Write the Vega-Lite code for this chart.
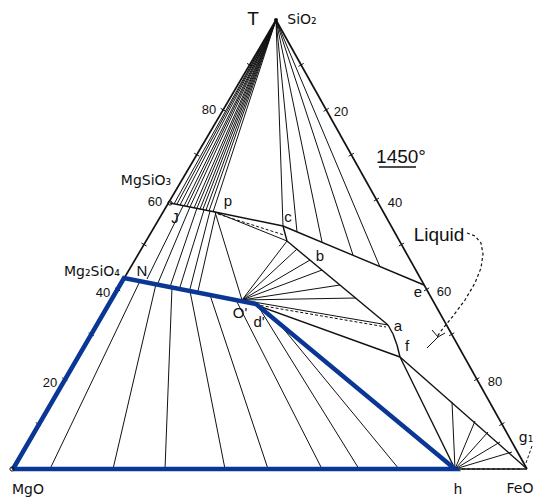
{
  "$schema": "https://vega.github.io/schema/vega-lite/v6.json",
  "width": 534,
  "height": 502,
  "autosize": {"type": "fit", "contains": "padding"},
  "padding": 0,
  "background": "white",
  "config": {"view": {"stroke": null}},
  "datasets": {
    "seg": [
      {"g":"edge","x":12,"y":469,"x2":276,"y2":20},
      {"g":"edge","x":276,"y":20,"x2":527,"y2":469},
      {"g":"edge","x":12,"y":469,"x2":527,"y2":469},
      {"g":"mid","x":170,"y":203,"x2":215,"y2":212},
      {"g":"mid","x":215,"y":212,"x2":283,"y2":226},
      {"g":"mid","x":283,"y":226,"x2":424,"y2":285},
      {"g":"mid","x":283,"y":226,"x2":287,"y2":241},
      {"g":"mid","x":287,"y":241,"x2":388,"y2":325},
      {"g":"mid","x":388,"y":325,"x2":393,"y2":334},
      {"g":"mid","x":393,"y":334,"x2":397,"y2":345},
      {"g":"mid","x":397,"y":345,"x2":400,"y2":357},
      {"g":"mid","x":400,"y":357,"x2":455,"y2":469},
      {"g":"mid","x":400,"y":357,"x2":526,"y2":468},
      {"g":"thin","x":242,"y":300,"x2":215,"y2":212},
      {"g":"thin","x":215,"y":212,"x2":287,"y2":241},
      {"g":"thin","x":242,"y":300,"x2":287,"y2":241},
      {"g":"thin","x":242,"y":300,"x2":297,"y2":249},
      {"g":"thin","x":242,"y":300,"x2":310,"y2":260},
      {"g":"thin","x":242,"y":300,"x2":322,"y2":270},
      {"g":"thin","x":242,"y":300,"x2":340,"y2":285},
      {"g":"thin","x":242,"y":300,"x2":356,"y2":298},
      {"g":"thin","x":242,"y":300,"x2":388,"y2":325},
      {"g":"mid","x":242,"y":300,"x2":400,"y2":357},
      {"g":"thin","x":276,"y":20,"x2":174,"y2":204},
      {"g":"thin","x":276,"y":20,"x2":177,"y2":204},
      {"g":"thin","x":276,"y":20,"x2":180,"y2":205},
      {"g":"thin","x":276,"y":20,"x2":184,"y2":206},
      {"g":"thin","x":276,"y":20,"x2":187,"y2":206},
      {"g":"thin","x":276,"y":20,"x2":190,"y2":207},
      {"g":"thin","x":276,"y":20,"x2":194,"y2":208},
      {"g":"thin","x":276,"y":20,"x2":197,"y2":208},
      {"g":"thin","x":276,"y":20,"x2":200,"y2":209},
      {"g":"thin","x":276,"y":20,"x2":203,"y2":209},
      {"g":"thin","x":276,"y":20,"x2":206,"y2":210},
      {"g":"thin","x":276,"y":20,"x2":209,"y2":211},
      {"g":"thin","x":276,"y":20,"x2":213,"y2":212},
      {"g":"thin","x":276,"y":20,"x2":283,"y2":226},
      {"g":"thin","x":276,"y":20,"x2":297,"y2":232},
      {"g":"thin","x":276,"y":20,"x2":322,"y2":242},
      {"g":"thin","x":276,"y":20,"x2":353,"y2":255},
      {"g":"thin","x":276,"y":20,"x2":380,"y2":267},
      {"g":"thin","x":50,"y":469,"x2":140,"y2":281},
      {"g":"thin","x":113,"y":469,"x2":156,"y2":284},
      {"g":"thin","x":165,"y":469,"x2":172,"y2":287},
      {"g":"thin","x":225,"y":469,"x2":190,"y2":291},
      {"g":"thin","x":268,"y":469,"x2":210,"y2":295},
      {"g":"thin","x":322,"y":469,"x2":236,"y2":300},
      {"g":"thin","x":359,"y":469,"x2":258,"y2":306},
      {"g":"thin","x":399,"y":469,"x2":282,"y2":327},
      {"g":"thin","x":147,"y":279,"x2":183,"y2":206},
      {"g":"thin","x":158,"y":283,"x2":190,"y2":207},
      {"g":"thin","x":170,"y":287,"x2":197,"y2":208},
      {"g":"thin","x":180,"y":287,"x2":204,"y2":210},
      {"g":"thin","x":190,"y":289,"x2":210,"y2":211},
      {"g":"thin","x":198,"y":291,"x2":216,"y2":212},
      {"g":"thin","x":455,"y":469,"x2":452,"y2":402},
      {"g":"thin","x":455,"y":469,"x2":475,"y2":421},
      {"g":"thin","x":455,"y":469,"x2":488,"y2":432},
      {"g":"thin","x":455,"y":469,"x2":500,"y2":442},
      {"g":"thin","x":455,"y":469,"x2":512,"y2":452},
      {"g":"thin","x":427,"y":348,"x2":438,"y2":337},
      {"g":"thin","x":432,"y":330,"x2":438,"y2":337},
      {"g":"thin","x":438,"y":337,"x2":445,"y2":333},
      {"g":"thin","x":35.8,"y":422.6,"x2":41,"y2":425.6},
      {"g":"thin","x":62.2,"y":377.7,"x2":67.4,"y2":380.7},
      {"g":"thin","x":88.6,"y":332.8,"x2":93.8,"y2":335.8},
      {"g":"thin","x":115,"y":287.9,"x2":120.2,"y2":290.9},
      {"g":"thin","x":141.4,"y":243,"x2":146.6,"y2":246},
      {"g":"thin","x":194.2,"y":153.2,"x2":199.4,"y2":156.2},
      {"g":"thin","x":220.6,"y":108.3,"x2":225.8,"y2":111.3},
      {"g":"thin","x":247,"y":63.4,"x2":252.2,"y2":66.4},
      {"g":"thin","x":298.5,"y":66.4,"x2":303.7,"y2":63.4},
      {"g":"thin","x":323.6,"y":111.3,"x2":328.8,"y2":108.3},
      {"g":"thin","x":348.7,"y":156.2,"x2":353.9,"y2":153.2},
      {"g":"thin","x":373.8,"y":201.1,"x2":379,"y2":198.1},
      {"g":"thin","x":398.9,"y":246,"x2":404.1,"y2":243},
      {"g":"thin","x":424,"y":290.9,"x2":429.2,"y2":287.9},
      {"g":"thin","x":449.1,"y":335.8,"x2":454.3,"y2":332.8},
      {"g":"thin","x":474.2,"y":380.7,"x2":479.4,"y2":377.7},
      {"g":"thin","x":499.3,"y":425.6,"x2":504.5,"y2":422.6},
      {"g":"mid","x":379,"y":167,"x2":416,"y2":167},
      {"g":"dash","x":246,"y":303,"x2":386,"y2":327},
      {"g":"dash","x":218,"y":214,"x2":284,"y2":235},
      {"g":"dash","x":532,"y":446,"x2":526,"y2":463},
      {"g":"dash","x":462,"y":469,"x2":520,"y2":469}
    ],
    "poly": [
      {"id":"blue","i":0,"x":13,"y":469},
      {"id":"blue","i":1,"x":124,"y":278},
      {"id":"blue","i":2,"x":256,"y":304},
      {"id":"blue","i":3,"x":455,"y":469},
      {"id":"blue","i":4,"x":13,"y":469},
      {"id":"lq","i":0,"x":467,"y":233},
      {"id":"lq","i":1,"x":475,"y":236},
      {"id":"lq","i":2,"x":481,"y":243},
      {"id":"lq","i":3,"x":483,"y":254},
      {"id":"lq","i":4,"x":481,"y":268},
      {"id":"lq","i":5,"x":475,"y":283},
      {"id":"lq","i":6,"x":465,"y":300},
      {"id":"lq","i":7,"x":453,"y":316},
      {"id":"lq","i":8,"x":441,"y":331},
      {"id":"lq","i":9,"x":437,"y":337}
    ],
    "pts": [
      {"k":"hollow","x":12,"y":469},
      {"k":"hollow","x":170,"y":203},
      {"k":"filled","x":276,"y":20}
    ],
    "txt": [
      {"k":"big","t":"T","x":253,"y":19},
      {"k":"big","t":"Liquid","x":439,"y":235},
      {"k":"temp","t":"1450°","x":401,"y":157},
      {"k":"chem","t":"SiO₂","x":302,"y":20},
      {"k":"chem","t":"MgSiO₃","x":146,"y":181},
      {"k":"chem","t":"Mg₂SiO₄","x":92,"y":272},
      {"k":"chem","t":"MgO","x":28,"y":490},
      {"k":"chem","t":"FeO","x":520,"y":489},
      {"k":"lab","t":"J","x":175,"y":218},
      {"k":"lab","t":"p","x":228,"y":201},
      {"k":"lab","t":"c","x":288,"y":217},
      {"k":"lab","t":"b","x":320,"y":256},
      {"k":"lab","t":"e","x":418,"y":292},
      {"k":"lab","t":"a","x":398,"y":326},
      {"k":"lab","t":"f","x":407,"y":346},
      {"k":"lab","t":"h","x":458,"y":489},
      {"k":"lab","t":"N","x":142,"y":271},
      {"k":"lab","t":"O'","x":240,"y":313},
      {"k":"lab","t":"d'","x":259,"y":322},
      {"k":"chem","t":"g₁","x":526,"y":438},
      {"k":"num","t":"20","x":50,"y":383},
      {"k":"num","t":"40","x":103,"y":293},
      {"k":"num","t":"60","x":155,"y":202},
      {"k":"num","t":"80","x":209,"y":110},
      {"k":"num","t":"20","x":341,"y":112},
      {"k":"num","t":"40","x":395,"y":203},
      {"k":"num","t":"60","x":444,"y":292},
      {"k":"num","t":"80","x":495,"y":382}
    ]
  },
  "encoding": {
    "x": {"field": "x", "type": "quantitative", "scale": {"domain": [0, 534], "nice": false, "zero": false}, "axis": null},
    "y": {"field": "y", "type": "quantitative", "scale": {"domain": [0, 502], "nice": false, "zero": false, "reverse": true}, "axis": null}
  },
  "layer": [
    {
      "data": {"name": "seg"},
      "transform": [{"filter": "datum.g === 'thin'"}],
      "mark": {"type": "rule", "color": "#111111", "strokeWidth": 1},
      "encoding": {"x2": {"field": "x2"}, "y2": {"field": "y2"}}
    },
    {
      "data": {"name": "seg"},
      "transform": [{"filter": "datum.g === 'mid'"}],
      "mark": {"type": "rule", "color": "#111111", "strokeWidth": 1.4},
      "encoding": {"x2": {"field": "x2"}, "y2": {"field": "y2"}}
    },
    {
      "data": {"name": "seg"},
      "transform": [{"filter": "datum.g === 'edge'"}],
      "mark": {"type": "rule", "color": "#111111", "strokeWidth": 1.7},
      "encoding": {"x2": {"field": "x2"}, "y2": {"field": "y2"}}
    },
    {
      "data": {"name": "seg"},
      "transform": [{"filter": "datum.g === 'dash'"}],
      "mark": {"type": "rule", "color": "#111111", "strokeWidth": 1, "strokeDash": [3, 2]},
      "encoding": {"x2": {"field": "x2"}, "y2": {"field": "y2"}}
    },
    {
      "data": {"name": "poly"},
      "transform": [{"filter": "datum.id === 'lq'"}],
      "mark": {"type": "line", "color": "#111111", "strokeWidth": 1.2, "strokeDash": [3, 2.5]},
      "encoding": {"order": {"field": "i", "type": "quantitative"}}
    },
    {
      "data": {"name": "poly"},
      "transform": [{"filter": "datum.id === 'blue'"}],
      "mark": {"type": "line", "color": "#0a3696", "strokeWidth": 4.5, "strokeJoin": "miter"},
      "encoding": {"order": {"field": "i", "type": "quantitative"}}
    },
    {
      "data": {"name": "pts"},
      "transform": [{"filter": "datum.k === 'hollow'"}],
      "mark": {"type": "point", "filled": false, "color": "#111111", "size": 18, "strokeWidth": 1, "opacity": 1}
    },
    {
      "data": {"name": "pts"},
      "transform": [{"filter": "datum.k === 'filled'"}],
      "mark": {"type": "circle", "color": "#111111", "size": 16, "opacity": 1}
    },
    {
      "data": {"name": "txt"},
      "transform": [{"filter": "datum.k === 'big'"}],
      "mark": {"type": "text", "font": "Liberation Sans", "fontSize": 19, "color": "#111111", "align": "center", "baseline": "middle"},
      "encoding": {"text": {"field": "t"}}
    },
    {
      "data": {"name": "txt"},
      "transform": [{"filter": "datum.k === 'temp'"}],
      "mark": {"type": "text", "font": "Liberation Sans", "fontSize": 19, "color": "#111111", "align": "center", "baseline": "middle"},
      "encoding": {"text": {"field": "t"}}
    },
    {
      "data": {"name": "txt"},
      "transform": [{"filter": "datum.k === 'chem'"}],
      "mark": {"type": "text", "font": "DejaVu Sans", "fontSize": 14, "color": "#111111", "align": "center", "baseline": "middle"},
      "encoding": {"text": {"field": "t"}}
    },
    {
      "data": {"name": "txt"},
      "transform": [{"filter": "datum.k === 'lab'"}],
      "mark": {"type": "text", "font": "Liberation Sans", "fontSize": 15, "color": "#111111", "align": "center", "baseline": "middle"},
      "encoding": {"text": {"field": "t"}}
    },
    {
      "data": {"name": "txt"},
      "transform": [{"filter": "datum.k === 'num'"}],
      "mark": {"type": "text", "font": "Liberation Sans", "fontSize": 13, "color": "#111111", "align": "center", "baseline": "middle"},
      "encoding": {"text": {"field": "t"}}
    }
  ]
}
